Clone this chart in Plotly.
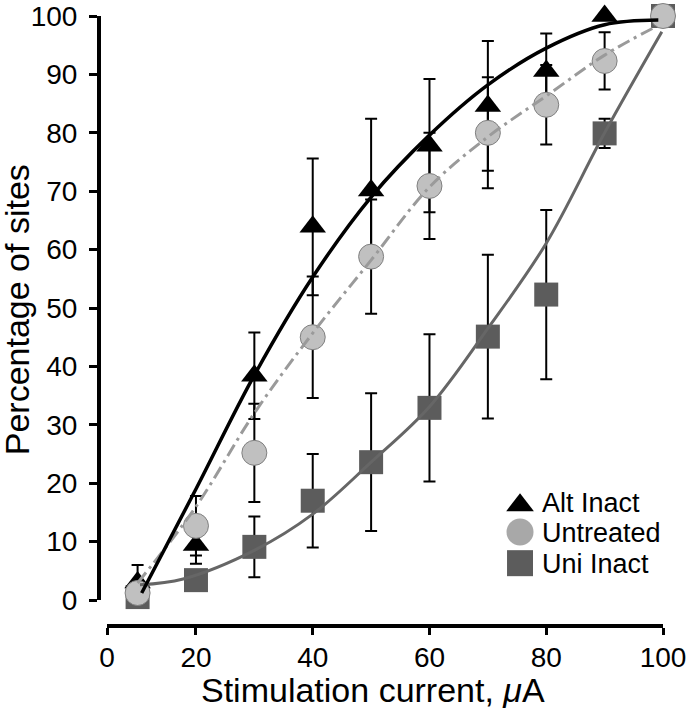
import plotly.graph_objects as go

# stimulation currents (uA); the x axis "0" label sits at the left end of the axis
current = [10, 20, 30, 40, 50, 60, 70, 80, 90, 100]

alt_inact = [3.0, 9.4, 38.4, 63.9, 70.1, 77.8, 84.6, 90.6, 100.0]
alt_err = [3.0, 3.2, 7.4, 11.7, 12.3, 11.4, 11.1, 6.4, 0.0]

untreated = [1.2, 12.7, 25.2, 45.0, 58.8, 70.9, 80.0, 84.8, 92.3, 100.0]
untreated_err = [0.0, 5.1, 8.4, 10.4, 9.8, 9.1, 9.5, 6.8, 4.9, 0.0]

uni_inact = [0.5, 3.4, 9.1, 17.0, 23.6, 32.9, 45.1, 52.3, 79.9, 100.0]
uni_err = [0.0, 1.5, 5.2, 8.0, 11.8, 12.6, 14.0, 14.5, 2.5, 0.0]

# fitted curves
alt_fit_x = [10.7, 20, 30, 40, 50, 60, 70, 80, 90, 99.2]
alt_fit_y = [1.2, 19.0, 38.5, 55.3, 69.0, 79.6, 88.2, 94.5, 98.5, 99.3]
untreated_fit_x = [10, 20, 30, 40, 50, 60, 70, 80, 90, 99]
untreated_fit_y = [2.9, 16.0, 32.0, 45.7, 58.2, 70.7, 79.3, 86.3, 93.3, 98.3]
uni_fit_x = [10.4, 17.8, 30, 40, 50, 60, 70, 80, 90, 99.8]
uni_fit_y = [2.6, 3.6, 8.5, 14.7, 23.6, 33.1, 46.5, 61.1, 80.0, 97.3]

x_ticks = [4.76, 20, 40, 60, 80, 100]
x_tick_labels = ["0", "20", "40", "60", "80", "100"]
y_ticks = [0, 10, 20, 30, 40, 50, 60, 70, 80, 90, 100]

legend_names = ["Alt Inact", "Untreated", "Uni Inact"]

FONT = "Liberation Sans, Arial, Helvetica, sans-serif"
BLACK = "#000000"
CIRCLE = "#c0c0c0"
SQUARE = "#5c5c5c"

fig = go.Figure()

err = dict(type="data", symmetric=True, color=BLACK, thickness=2, width=6)

fig.add_trace(go.Scatter(
    x=current, y=uni_inact, mode="markers", name="Uni Inact",
    marker=dict(symbol="square", size=24, color=SQUARE),
    error_y=dict(err, array=uni_err), cliponaxis=False))
fig.add_trace(go.Scatter(
    x=current[:len(alt_inact)], y=alt_inact, mode="markers", name="Alt Inact",
    marker=dict(symbol="triangle-up", size=23, color=BLACK),
    error_y=dict(err, array=alt_err), cliponaxis=False))
fig.add_trace(go.Scatter(
    x=current, y=untreated, mode="markers", name="Untreated",
    marker=dict(symbol="circle", size=25, color=CIRCLE,
                line=dict(color="#808080", width=1)),
    error_y=dict(err, array=untreated_err), cliponaxis=False))

# fit lines on top of the markers
fig.add_trace(go.Scatter(
    x=uni_fit_x, y=uni_fit_y, mode="lines", line_shape="spline",
    line=dict(color="#666666", width=3), cliponaxis=False))
fig.add_trace(go.Scatter(
    x=untreated_fit_x, y=untreated_fit_y, mode="lines", line_shape="spline",
    line=dict(color="#9a9a9a", width=3, dash="13px,5px,3px,5px"),
    cliponaxis=False))
fig.add_trace(go.Scatter(
    x=alt_fit_x, y=alt_fit_y, mode="lines", line_shape="spline",
    line=dict(color=BLACK, width=3.5), cliponaxis=False))

# hand-made legend on a hidden 0..1 axis pair
leg_symbols = ["triangle-up", "circle", "square"]
leg_colors = [BLACK, "#a8a8a8", SQUARE]
leg_sizes = [24, 27, 26]
leg_shift = [-0.005, 0, 0]   # triangle path sits high in its box
leg_y = [0.203, 0.154, 0.103]
for i, name in enumerate(legend_names):
    fig.add_trace(go.Scatter(
        x=[0.7465], y=[leg_y[i] + leg_shift[i]], mode="markers",
        xaxis="x2", yaxis="y2",
        marker=dict(symbol=leg_symbols[i], size=leg_sizes[i],
                    color=leg_colors[i]),
        hoverinfo="skip", cliponaxis=False))
    fig.add_annotation(
        x=0.782, y=leg_y[i] - 0.002, xref="paper", yref="paper",
        text=name, showarrow=False, xanchor="left", yanchor="middle",
        font=dict(family=FONT, size=27, color=BLACK))

fig.add_annotation(
    x=0.486, y=-0.105, xref="paper", yref="paper",
    text="Stimulation current, <i>\u03bc</i>A", showarrow=False,
    xanchor="center", yanchor="middle",
    font=dict(family=FONT, size=34, color=BLACK))
fig.add_annotation(
    x=-0.145, y=0.518, xref="paper", yref="paper",
    text="Percentage of sites", showarrow=False, textangle=-90,
    xanchor="center", yanchor="middle",
    font=dict(family=FONT, size=34, color=BLACK))

fig.update_layout(
    width=690, height=712,
    margin=dict(l=99, r=27, t=16, b=86, autoexpand=False),
    paper_bgcolor="white", plot_bgcolor="rgba(0,0,0,0)",
    showlegend=False,
    font=dict(family=FONT, color=BLACK),
    xaxis=dict(domain=[8 / 564, 1], range=[4.76, 100], anchor="free",
               position=0, showline=True, linewidth=4, linecolor=BLACK,
               ticks="outside", ticklen=7, tickwidth=3, tickcolor=BLACK,
               tickvals=x_ticks, ticktext=x_tick_labels, automargin=False,
               ticklabelstandoff=-2,
               tickfont=dict(size=28), showgrid=False, zeroline=False),
    yaxis=dict(domain=[26 / 610, 1], range=[0, 100], anchor="free",
               position=0, showline=True, linewidth=4, linecolor=BLACK,
               ticks="outside", ticklen=8, tickwidth=3, tickcolor=BLACK,
               tickvals=y_ticks, tickfont=dict(size=28), automargin=False,
               ticklabelstandoff=6, showgrid=False, zeroline=False),
    xaxis2=dict(domain=[0, 1], range=[0, 1], anchor="y2", visible=False),
    yaxis2=dict(domain=[0, 1], range=[0, 1], anchor="x2", visible=False),
)

fig.write_html("out.html", config={"displayModeBar": False},
               post_script="document.body.style.margin='0';")
